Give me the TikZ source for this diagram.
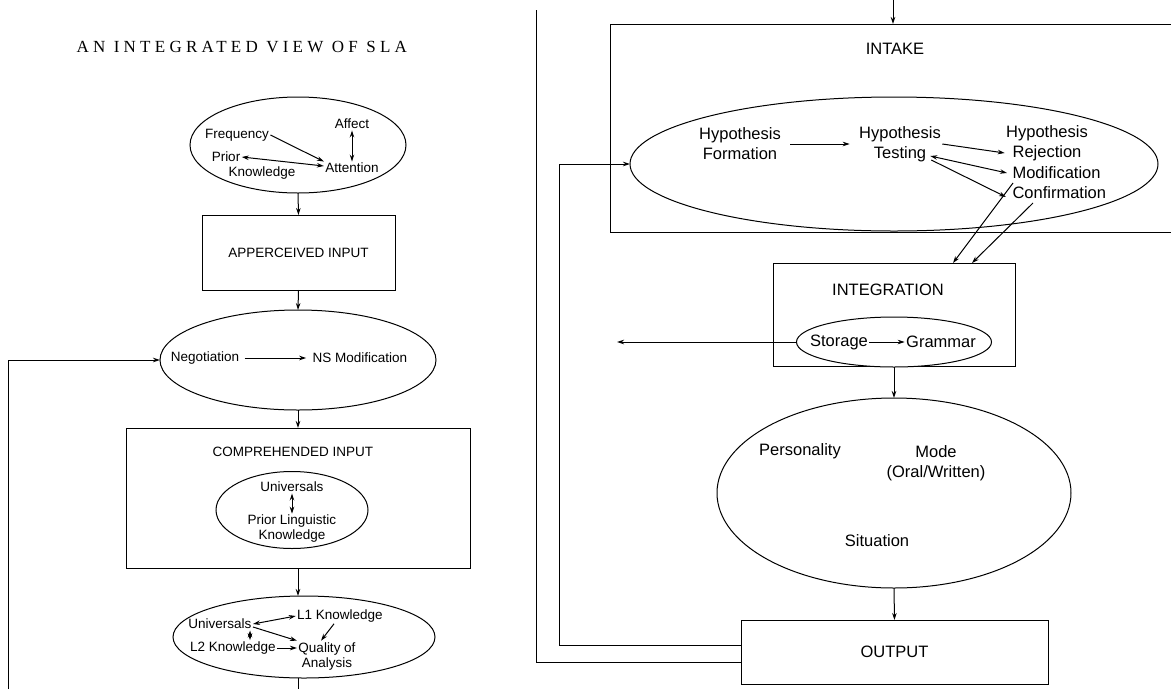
\documentclass[tikz,border=0pt]{standalone}
\usepackage{fontspec}
\setmainfont{Liberation Sans}
\newfontfamily\headfont[LetterSpace=25]{Liberation Serif}
\usetikzlibrary{arrows.meta,shapes.geometric}
\begin{document}
\begin{tikzpicture}[x=1pt,y=-1pt,line width=1pt,>={Stealth[length=7pt,width=4.5pt]},
	bubble/.style={draw,ellipse,inner sep=0pt,outer sep=0pt},
	stage/.style={draw,rectangle,inner sep=0pt,outer sep=0pt},
	txt/.style={inner sep=1pt,align=center,font=\fontsize{13.5}{15}\selectfont},
	btxt/.style={inner sep=1pt,align=center,font=\fontsize{16.5}{20}\selectfont}]
	\clip (0,0) rectangle (1171,689);
	\node[font=\fontsize{17}{20}\headfont,inner sep=0pt,anchor=west] (title) at (76,47) {AN INTEGRATED VIEW OF SLA};
	% left column
	\node[bubble,minimum width=216pt,minimum height=96pt] (attn) at (298,145) {};
	\node[txt] (freq) at (237,135) {Frequency};
	\node[txt] (affect) at (352,124) {Affect};
	\node[txt] (prior) at (226,157) {Prior};
	\node[txt] (knowa) at (262,173) {Knowledge};
	\node[txt] (atten) at (352,168) {Attention};
	\draw[->] (freq.east)--(atten.north west);
	\draw[<->] (prior.east)--([yshift=2pt]atten.west);
	\draw[<->] (affect.south)--(atten.north);
	\node[stage,minimum width=193pt,minimum height=75pt,txt] (apper) at (298.5,252.5) {APPERCEIVED INPUT};
	\draw[->] (attn.south)--(apper.north);
	\node[bubble,minimum width=276pt,minimum height=100pt] (neg) at (298,360) {};
	\node[txt] (nego) at (205,358) {Negotiation};
	\node[txt] (nsmod) at (360,358) {NS Modification};
	\draw[->,shorten <=4pt,shorten >=5pt] (nego.east)--(nsmod.west);
	\draw[->] (apper.south)--(neg.north);
	\node[stage,minimum width=344pt,minimum height=140pt] (comp) at (298,498) {};
	\node[txt] (comptxt) at (293,452) {COMPREHENDED INPUT};
	\node[bubble,minimum width=152pt,minimum height=77pt] (ling) at (292,510) {};
	\node[txt] (univa) at (292,487) {Universals};
	\node[txt] (plk) at (292,529) {Prior Linguistic\\Knowledge};
	\draw[<->] (univa.south)--(plk.north);
	\draw[->] (neg.south)--(comp.north);
	\node[bubble,minimum width=262pt,minimum height=82pt] (anal) at (304,637) {};
	\node[txt] (univb) at (220,624) {Universals};
	\node[txt] (lone) at (340,616) {L1 Knowledge};
	\node[txt] (ltwo) at (233,648) {L2 Knowledge};
	\node[txt] (qual) at (327,656) {Quality of\\Analysis};
	\draw[<->] (univb.east)--(lone.west);
	\draw[<->] ([xshift=-3pt]univb.south east)--([xshift=-3pt]univb.south east |- ltwo.north);
	\draw[->] ([yshift=-3pt]univb.east)--(qual.north west);
	\draw[->] ([xshift=-6pt]lone.south)--([xshift=-6pt]qual.north);
	\draw[->] (ltwo.east)--(ltwo.east -| qual.west);
	\draw[->] (comp.south)--(comp.south |- anal.north);
	\coordinate (lbot) at (298,689);
	\draw (lbot |- anal.south)--(lbot);
	\coordinate (lfb) at (8,689);
	\draw[->] (lfb) |- (neg.west);
	% right column
	\node[stage,minimum width=575pt,minimum height=208pt] (intake) at (897.5,128) {};
	\node[btxt] (intaketxt) at (895,49) {INTAKE};
	\coordinate (rtop) at (893,0);
	\draw[->] (rtop)--(rtop |- intake.north);
	\node[bubble,minimum width=528pt,minimum height=134pt] (hyp) at (894,164) {};
	\node[btxt] (hform) at (740,144) {Hypothesis\\Formation};
	\node[btxt] (htest) at (900,144) {Hypothesis\\Testing};
	\node[btxt] (hrej) at (1047,143) {Hypothesis\\Rejection};
	\node[btxt,anchor=west] (hmod) at (1011,173) {Modification};
	\node[btxt,anchor=west] (hconf) at (1011,193) {Confirmation};
	\draw[->,shorten <=8pt,shorten >=8pt] (hform.east)--(htest.west);
	\draw[->] (htest.east)--([yshift=-10pt]hrej.west);
	\draw[<->] ([xshift=-12pt,yshift=-12pt]htest.east)--([xshift=-4pt]hmod.west);
	\draw[->] ([xshift=-11pt,yshift=-16pt]htest.east)--([xshift=-5pt,yshift=-4pt]hconf.west);
	\node[stage,minimum width=242pt,minimum height=103pt] (integ) at (894,314.5) {};
	\node[btxt] (integtxt) at (888,290) {INTEGRATION};
	\draw[->] ([xshift=2pt,yshift=-10pt]hmod.west)--([xshift=59pt]integ.north);
	\draw[->] ([xshift=22pt,yshift=-10pt]hconf.west)--([xshift=78pt]integ.north);
	\node[bubble,fill=white,minimum width=195pt,minimum height=50pt] (stor) at (894,342) {};
	\node[btxt] (storage) at (839,342) {Storage};
	\node[btxt] (gram) at (941,342) {Grammar};
	\draw[->] (storage.east)--(gram.west);
	\coordinate (lout) at (617,342);
	\draw[->] (stor.west)--(lout);
	\node[bubble,minimum width=354pt,minimum height=190pt] (pers) at (894,493) {};
	\node[btxt] (person) at (800,451) {Personality};
	\node[btxt] (mode) at (936,463) {Mode\\(Oral/Written)};
	\node[btxt] (situ) at (877,541) {Situation};
	\draw[->] (stor.south)--(pers.north);
	\node[stage,btxt,minimum width=307pt,minimum height=64pt] (outp) at (894.5,652) {OUTPUT};
	\draw[->] (pers.south)--(outp.north);
	\coordinate (fbin) at (559,645);
	\coordinate (fbout) at (536,10);
	\draw[->] (outp.west |- fbin)--(fbin) |- (hyp.west);
	\draw ([yshift=-10pt]outp.west) -| (fbout);
\end{tikzpicture}
\end{document}
